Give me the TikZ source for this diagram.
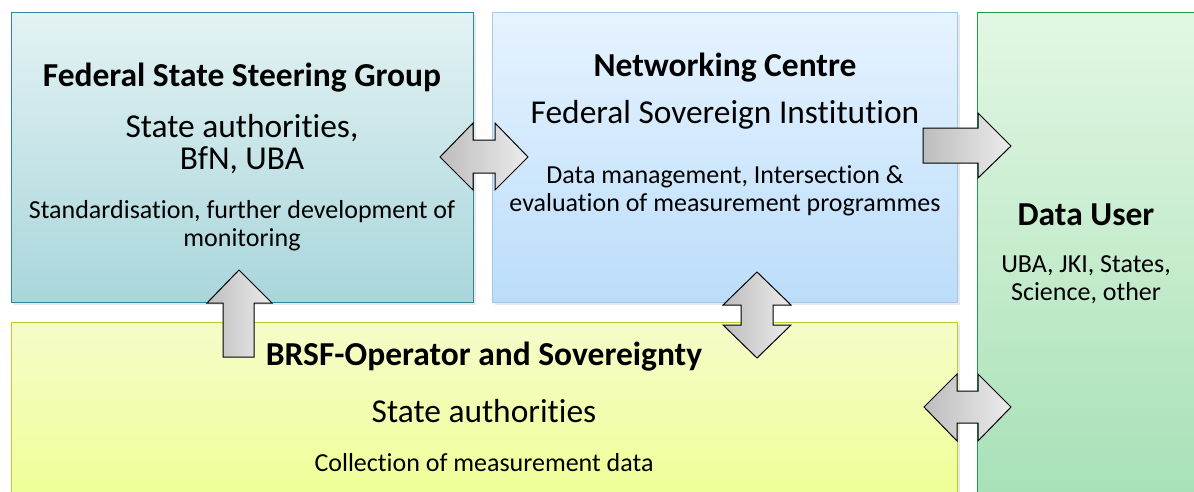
\documentclass[tikz,border=0pt]{standalone}
\usepackage{fontspec}
\setmainfont[Ligatures=NoCommon]{Carlito}
\usetikzlibrary{shadows}
\definecolor{tealB}{HTML}{31859B}
\definecolor{tealT}{HTML}{E3F2F3}
\definecolor{tealD}{HTML}{A9D6DB}
\definecolor{blueB}{HTML}{A5C8E8}
\definecolor{blueT}{HTML}{E6F3FF}
\definecolor{blueD}{HTML}{BBDDFA}
\definecolor{greenB}{HTML}{1E9B4A}
\definecolor{greenT}{HTML}{E3F7E3}
\definecolor{greenD}{HTML}{A3DFB4}
\definecolor{yelB}{HTML}{BBCE2A}
\definecolor{yelT}{HTML}{F6FCC9}
\definecolor{yelD}{HTML}{EEFF8E}
\definecolor{arrL}{HTML}{BDBDBD}
\definecolor{arrR}{HTML}{ECECEC}
\tikzset{
  box/.style={draw, line width=1.2pt, anchor=north west, inner sep=0pt,
    drop shadow={opacity=0.18, shadow xshift=2pt, shadow yshift=-2pt}},
  blk/.style={draw=black, line width=1pt, line join=miter, left color=arrL, right color=arrR},
  ttl/.style={font=\fontsize{33.5}{36}\selectfont\bfseries, inner sep=0pt},
  mid/.style={font=\fontsize{33.4}{32}\selectfont, inner sep=0pt, align=center},
  sml/.style={font=\fontsize{26}{28}\selectfont, inner sep=0pt, align=center},
}
\begin{document}
\begin{tikzpicture}[x=1pt,y=-1pt]
\useasboundingbox (0,0) rectangle (1194,491);
\clip (0,0) rectangle (1194,491);
% boxes
\node[box, draw=tealB, top color=tealT, bottom color=tealD, minimum width=462pt, minimum height=290pt] (fs) at (11,12) {};
\node[box, draw=blueB, top color=blueT, bottom color=blueD, minimum width=465pt, minimum height=290pt] (nc) at (492,12) {};
\node[box, draw=greenB, top color=greenT, bottom color=greenD, minimum width=240pt, minimum height=520pt] (du) at (977,12) {};
\node[box, draw=yelB, top color=yelT, bottom color=yelD, minimum width=946pt, minimum height=200pt] (op) at (11,322) {};
% texts
\node[ttl] (fsT) at (242,78) {Federal State Steering Group};
\node[mid] (fsM) at (242,144) {State authorities,\\BfN, UBA};
\node[sml] (fsS) at (242,226) {Standardisation, further development of\\monitoring};
\node[ttl] (ncT) at (725,68) {Networking Centre};
\node[mid] (ncM) at (725,115) {Federal Sovereign Institution};
\node[sml] (ncS) at (725,191) {Data management, Intersection \&\\evaluation of measurement programmes};
\node[ttl] (duT) at (1086,215) {Data User};
\node[sml] (duS) at (1086,280) {UBA, JKI, States,\\Science, other};
\node[ttl] (opT) at (484,357) {BRSF-Operator and Sovereignty};
\node[mid] (opM) at (484,411) {State authorities};
\node[sml] (opS) at (484,463) {Collection of measurement data};
% block arrows
\path[blk] (440,157) -- (473,123) -- (473,140) -- (495,140) -- (495,123) -- (528,157)
  -- (495,190) -- (495,173) -- (473,173) -- (473,190) -- cycle;
\path[blk] (239,270) -- (272,303) -- (254,303) -- (254,357) -- (223,357) -- (223,303) -- (207,303) -- cycle;
\path[blk] (757,272) -- (791,305) -- (773,305) -- (773,325) -- (791,325) -- (757,358)
  -- (723,325) -- (741,325) -- (741,305) -- (723,305) -- cycle;
\path[blk] (923,128) -- (978,128) -- (978,113) -- (1011,146) -- (978,178) -- (978,163) -- (923,163) -- cycle;
\path[blk] (924,407) -- (957,374) -- (957,391) -- (978,391) -- (978,374) -- (1011,407)
  -- (978,441) -- (978,423) -- (957,423) -- (957,441) -- cycle;
\end{tikzpicture}
\end{document}
